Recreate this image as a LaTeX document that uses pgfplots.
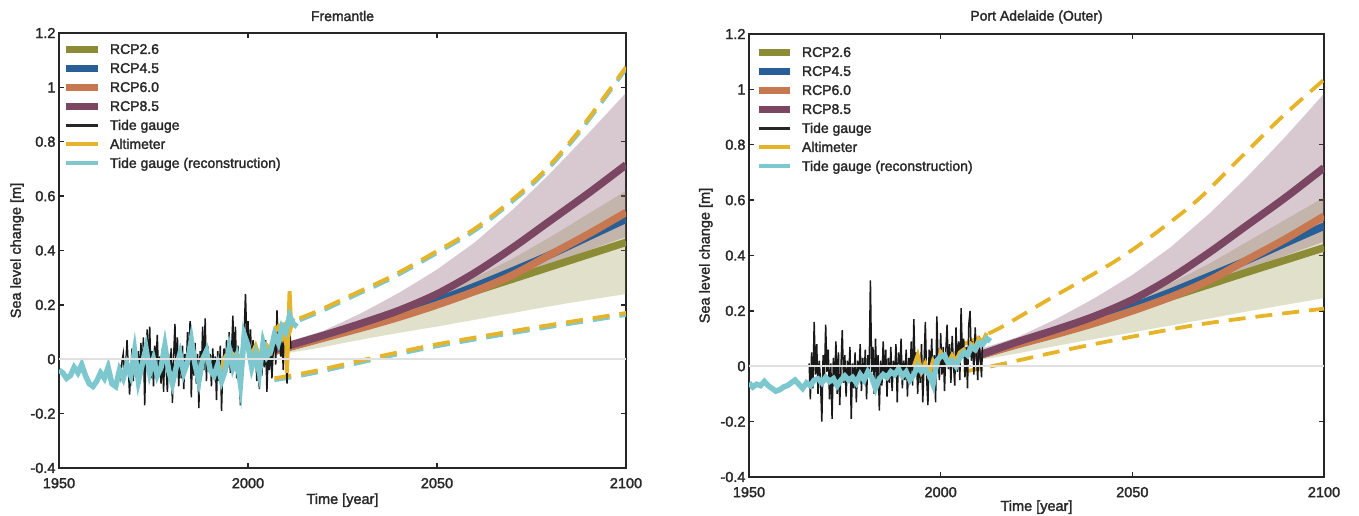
\documentclass[border=0pt]{standalone}
\usepackage{fontspec}
\setmainfont{Liberation Sans}[BoldFont=Liberation Sans, BoldFeatures={FakeBold=2}]
\usepackage{pgfplots}
\pgfplotsset{compat=1.18}
\definecolor{c26}{RGB}{140,140,55}
\definecolor{c45}{RGB}{40,95,150}
\definecolor{c60}{RGB}{200,120,80}
\definecolor{c85}{RGB}{122,70,98}
\definecolor{calt}{RGB}{230,180,40}
\definecolor{crec}{RGB}{125,200,207}
\definecolor{txt}{RGB}{40,40,40}
\pgfplotsset{
  slc/.style={
    scale only axis,
    xmin=1950,xmax=2100,ymin=-0.4,ymax=1.2,
    xtick={1950,2000,2050,2100},
    xticklabels={1950,2000,2050,2100},
    ytick={-0.4,-0.2,0,0.2,0.4,0.6,0.8,1,1.2},
    yticklabels={-0.4,-0.2,0,0.2,0.4,0.6,0.8,1,1.2},
    tick align=inside,
    major tick length=5pt,
    every tick/.style={black!85, line width=1.5pt},
    axis line style={line width=2.2pt, black!85},
    tick label style={font=\fontsize{14.5}{16}\selectfont\bfseries, text=txt},
    xticklabel style={yshift=-6.5pt},
    label style={font=\fontsize{14.5}{16}\selectfont\bfseries, text=txt},
    title style={font=\fontsize{14}{15}\selectfont\bfseries, text=txt, at={(0.5,1)}, anchor=center, yshift=11pt},
    xlabel={Time [year]},
    ylabel={Sea level change [m]},
    legend cell align=left,
    legend image code/.code={\draw[##1, line cap=butt] (0pt,0pt) -- (31pt,0pt); \path (40pt,0pt);},
    legend style={draw=none, fill=none, inner sep=0pt, outer sep=0pt, anchor=north west,
      font=\fontsize{14}{15}\selectfont\bfseries, text=txt, row sep=9.3pt,
      nodes={inner sep=0pt, text height=9.7pt, text depth=0pt}},
  },
  bandp/.style={draw=none, fill=c85, fill opacity=0.29, forget plot},
  bandt/.style={draw=none, fill=c26, fill opacity=0.26, forget plot},
  proj/.style={line width=7.5pt, smooth, forget plot},
  dsh/.style={line width=3.8pt, dash pattern=on 17pt off 10pt, smooth, forget plot},
}
\begin{document}
\begin{tikzpicture}
\path[use as bounding box] (0pt,0pt) rectangle (1359pt,516pt);
% ================= LEFT: Fremantle =================
\begin{axis}[slc, at={(59pt,48pt)}, anchor=south west, width=567pt, height=435pt,
  title={Fremantle},
  xlabel style={at={(axis description cs:0.5,-0.074)}, anchor=center},
  ylabel style={at={(axis description cs:-0.074,0.5)}, anchor=center},
  legend style={at={(0,1)}, xshift=4pt, yshift=-11.2pt}]
\addlegendimage{line width=7pt, c26}\addlegendentry{RCP2.6}
\addlegendimage{line width=7pt, c45}\addlegendentry{RCP4.5}
\addlegendimage{line width=7pt, c60}\addlegendentry{RCP6.0}
\addlegendimage{line width=7pt, c85}\addlegendentry{RCP8.5}
\addlegendimage{line width=3pt, black!85}\addlegendentry{Tide gauge}
\addlegendimage{line width=4pt, calt}\addlegendentry{Altimeter}
\addlegendimage{line width=4pt, crec}\addlegendentry{Tide gauge (reconstruction)}
% bands
\addplot[bandt] coordinates {(2007,0.045) (2010,0.055) (2015,0.072) (2020,0.09) (2025,0.11) (2030,0.13) (2035,0.155) (2040,0.18) (2045,0.207) (2050,0.235) (2055,0.267) (2060,0.3) (2065,0.335) (2070,0.37) (2075,0.41) (2080,0.45) (2085,0.492) (2090,0.535) (2095,0.577) (2100,0.62)
 (2100,0.24) (2095,0.229) (2090,0.218) (2085,0.207) (2080,0.195) (2075,0.183) (2070,0.17) (2065,0.158) (2060,0.145) (2055,0.133) (2050,0.12) (2045,0.109) (2040,0.097) (2035,0.085) (2030,0.072) (2025,0.059) (2020,0.045) (2015,0.033) (2010,0.022) (2007,0.015)};
\addplot[bandp] coordinates {(2007,0.05) (2010,0.062) (2015,0.083) (2020,0.105) (2025,0.137) (2030,0.17) (2035,0.207) (2040,0.245) (2045,0.287) (2050,0.33) (2055,0.38) (2060,0.43) (2065,0.49) (2070,0.55) (2075,0.617) (2080,0.685) (2085,0.757) (2090,0.83) (2095,0.905) (2100,0.98)
 (2100,0.45) (2095,0.425) (2090,0.40) (2085,0.375) (2080,0.35) (2075,0.325) (2070,0.30) (2065,0.275) (2060,0.25) (2055,0.222) (2050,0.195) (2045,0.172) (2040,0.15) (2035,0.129) (2030,0.108) (2025,0.089) (2020,0.07) (2015,0.052) (2010,0.03) (2007,0.02)};
% dashed envelopes
\addplot[dsh, crec, yshift=-2pt] coordinates {(2007,0.115) (2018,0.175) (2028,0.24) (2038,0.305) (2049,0.39) (2061,0.49) (2076,0.66) (2087,0.83) (2100,1.075)};
\addplot[dsh, calt] coordinates {(2007,0.115) (2018,0.175) (2028,0.24) (2038,0.305) (2049,0.39) (2061,0.49) (2076,0.66) (2087,0.83) (2100,1.075)};
\addplot[dsh, crec, yshift=-2pt] coordinates {(2007,-0.07) (2017,-0.045) (2033,0.005) (2050,0.055) (2075,0.115) (2100,0.17)};
\addplot[dsh, calt] coordinates {(2007,-0.07) (2017,-0.045) (2033,0.005) (2050,0.055) (2075,0.115) (2100,0.17)};
% projections
\addplot[proj, c26] coordinates {(2007,0.03) (2020,0.08) (2030,0.118) (2040,0.16) (2050,0.205) (2060,0.25) (2070,0.295) (2080,0.34) (2090,0.385) (2100,0.43)};
\addplot[proj, c45] coordinates {(2007,0.03) (2020,0.08) (2030,0.12) (2040,0.165) (2050,0.215) (2060,0.268) (2070,0.325) (2080,0.385) (2090,0.45) (2100,0.515)};
\addplot[proj, c60] coordinates {(2007,0.03) (2020,0.078) (2030,0.115) (2040,0.155) (2050,0.2) (2060,0.25) (2070,0.31) (2080,0.385) (2090,0.46) (2100,0.54)};
\addplot[proj, c85] coordinates {(2007,0.035) (2020,0.088) (2030,0.132) (2040,0.18) (2050,0.24) (2060,0.318) (2070,0.41) (2080,0.51) (2090,0.61) (2100,0.715)};
% tide gauge
\addplot[black!90, line width=1.5pt, forget plot] coordinates {
(1966.0,-0.02) (1966.33,-0.06) (1966.67,-0.01) (1967.0,0.02) (1967.33,-0.05) (1967.67,-0.02)
(1968.0,0.07) (1968.33,-0.03) (1968.67,-0.13) (1969.0,-0.04) (1969.33,0.04) (1969.67,-0.08)
(1970.0,0.05) (1970.33,-0.02) (1970.67,-0.06) (1971.0,0.03) (1971.33,-0.09) (1971.67,0.06)
(1972.0,-0.05) (1972.33,0.08) (1972.67,-0.17) (1973.0,0.02) (1973.33,0.11) (1973.67,-0.04)
(1974.0,0.12) (1974.33,-0.07) (1974.67,0.03) (1975.0,-0.10) (1975.33,0.05) (1975.67,-0.02)
(1976.0,0.09) (1976.33,-0.06) (1976.67,0.01) (1977.0,-0.09) (1977.33,0.04) (1977.67,-0.12)
(1978.0,0.05) (1978.33,-0.03) (1978.67,-0.12) (1979.0,0.02) (1979.33,-0.08) (1979.67,0.04)
(1980.0,-0.16) (1980.33,0.01) (1980.67,0.13) (1981.0,-0.05) (1981.33,0.08) (1981.67,-0.10)
(1982.0,0.03) (1982.33,-0.07) (1982.67,0.05) (1983.0,-0.11) (1983.33,0.02) (1983.67,-0.04)
(1984.0,0.10) (1984.33,-0.02) (1984.67,0.14) (1985.0,-0.14) (1985.33,0.04) (1985.67,-0.06)
(1986.0,0.06) (1986.33,-0.09) (1986.67,0.02) (1987.0,-0.18) (1987.33,0.03) (1987.67,-0.05)
(1988.0,0.12) (1988.33,-0.04) (1988.67,0.15) (1989.0,-0.08) (1989.33,0.05) (1989.67,-0.03)
(1990.0,0.02) (1990.33,-0.10) (1990.67,0.04) (1991.0,-0.06) (1991.33,0.01) (1991.67,-0.15)
(1992.0,0.03) (1992.33,-0.08) (1992.67,0.05) (1993.0,-0.19) (1993.33,-0.02) (1993.67,0.04)
(1994.0,-0.06) (1994.33,0.07) (1994.67,-0.03) (1995.0,0.10) (1995.33,-0.05) (1995.67,0.03)
(1996.0,0.16) (1996.33,-0.04) (1996.67,0.12) (1997.0,-0.07) (1997.33,0.05) (1997.67,-0.02)
(1998.0,-0.17) (1998.33,-0.05) (1998.67,0.06) (1999.0,0.10) (1999.33,0.24) (1999.67,0.08)
(2000.0,0.14) (2000.33,0.02) (2000.67,0.11) (2001.0,-0.05) (2001.33,0.07) (2001.67,-0.02)
(2002.0,0.04) (2002.33,-0.08) (2002.67,0.01) (2003.0,-0.11) (2003.33,0.03) (2003.67,-0.06)
(2004.0,0.05) (2004.33,-0.03) (2004.67,0.07) (2005.0,-0.12) (2005.33,0.02) (2005.67,-0.04)
(2006.0,0.06) (2006.33,-0.07) (2006.67,0.03) (2007.0,0.10) (2007.33,-0.02) (2007.67,0.18)
(2008.0,0.05) (2008.33,0.12) (2008.67,0.01) (2009.0,0.08) (2009.33,-0.04) (2009.67,0.10)
(2010.0,0.02) (2010.33,-0.09) (2010.67,0.06) (2011.0,0.13) (2011.33,0.04)};
% altimeter
\addplot[calt, line width=4pt, forget plot] coordinates {
(1993,-0.04) (1994,0.01) (1995,0.03) (1996,0.02) (1997,-0.02) (1998,0.0) (1999,0.06) (2000,0.04)
(2001,0.02) (2002,0.05) (2003,0.01) (2004,0.03) (2005,0.05) (2006,0.03) (2007,0.10) (2008,0.12)
(2009,0.08) (2010,0.12) (2010.3,-0.05) (2010.6,0.08) (2011.0,0.25) (2011.4,0.12) (2012,0.15)};
% reconstruction
\addplot[crec, line width=5.5pt, forget plot] coordinates {
(1950,-0.04) (1951,-0.05) (1952,-0.07) (1953,-0.06) (1954,-0.03) (1955,-0.05) (1956,-0.02) (1957,-0.06)
(1958,-0.09) (1959,-0.10) (1960,-0.08) (1961,-0.05) (1962,-0.07) (1963,-0.03) (1964,-0.09) (1965,-0.10)
(1966,-0.04) (1967,-0.07) (1968,-0.02) (1969,-0.06) (1970,0.03) (1971,-0.08) (1972,-0.02) (1973,0.04)
(1974,-0.05) (1975,0.00) (1976,-0.06) (1977,-0.03) (1978,0.05) (1979,-0.04) (1980,-0.09) (1981,-0.03)
(1982,0.02) (1983,-0.05) (1984,-0.01) (1985,0.07) (1986,-0.02) (1987,-0.08) (1988,0.00) (1989,0.03)
(1990,-0.04) (1991,-0.06) (1992,-0.02) (1993,-0.08) (1994,-0.04) (1995,0.04) (1996,-0.03) (1997,0.01)
(1998,-0.09) (1999,0.09) (2000,0.05) (2001,-0.03) (2002,0.02) (2003,-0.05) (2004,0.06) (2005,0.01)
(2006,0.03) (2007,0.09) (2008,0.06) (2009,0.12) (2010,0.10) (2011,0.16) (2012,0.13) (2013,0.12)};
\addplot[black!12, line width=1.5pt, forget plot] coordinates {(1950,0) (2100,0)};
\end{axis}
% ================= RIGHT: Port Adelaide =================
\begin{axis}[slc, at={(749pt,39pt)}, anchor=south west, width=575pt, height=443pt,
  title={Port Adelaide (Outer)},
  xlabel style={at={(axis description cs:0.5,-0.068)}, anchor=center},
  ylabel style={at={(axis description cs:-0.075,0.5)}, anchor=center},
  legend style={at={(0,1)}, xshift=6pt, yshift=-13.2pt}]
\addlegendimage{line width=7pt, c26}\addlegendentry{RCP2.6}
\addlegendimage{line width=7pt, c45}\addlegendentry{RCP4.5}
\addlegendimage{line width=7pt, c60}\addlegendentry{RCP6.0}
\addlegendimage{line width=7pt, c85}\addlegendentry{RCP8.5}
\addlegendimage{line width=3pt, black!85}\addlegendentry{Tide gauge}
\addlegendimage{line width=4pt, calt}\addlegendentry{Altimeter}
\addlegendimage{line width=4pt, crec}\addlegendentry{Tide gauge (reconstruction)}
\addplot[bandt] coordinates {(2009,0.045) (2010,0.055) (2015,0.072) (2020,0.09) (2025,0.11) (2030,0.13) (2035,0.155) (2040,0.18) (2045,0.207) (2050,0.235) (2055,0.267) (2060,0.3) (2065,0.335) (2070,0.37) (2075,0.41) (2080,0.45) (2085,0.49) (2090,0.53) (2095,0.57) (2100,0.61)
 (2100,0.246) (2095,0.234) (2090,0.222) (2085,0.21) (2080,0.198) (2075,0.185) (2070,0.172) (2065,0.16) (2060,0.147) (2055,0.135) (2050,0.122) (2045,0.11) (2040,0.098) (2035,0.086) (2030,0.073) (2025,0.06) (2020,0.046) (2015,0.034) (2010,0.022) (2009,0.02)};
\addplot[bandp] coordinates {(2009,0.058) (2010,0.062) (2015,0.083) (2020,0.105) (2025,0.137) (2030,0.17) (2035,0.207) (2040,0.245) (2045,0.287) (2050,0.33) (2055,0.38) (2060,0.43) (2065,0.49) (2070,0.55) (2075,0.617) (2080,0.685) (2085,0.757) (2090,0.83) (2095,0.907) (2100,0.985)
 (2100,0.45) (2095,0.425) (2090,0.40) (2085,0.375) (2080,0.35) (2075,0.325) (2070,0.30) (2065,0.275) (2060,0.25) (2055,0.222) (2050,0.195) (2045,0.172) (2040,0.15) (2035,0.129) (2030,0.108) (2025,0.089) (2020,0.07) (2015,0.052) (2010,0.03) (2009,0.026)};
\addplot[dsh, calt] coordinates {(2006,0.08) (2015,0.135) (2028,0.24) (2045,0.375) (2056,0.48) (2067,0.60) (2078,0.75) (2089,0.90) (2100,1.035)};
\addplot[dsh, calt] coordinates {(2006,-0.02) (2015,0.005) (2033,0.06) (2050,0.107) (2067,0.15) (2083,0.18) (2100,0.208)};
\addplot[proj, c26] coordinates {(2009,0.035) (2020,0.08) (2030,0.118) (2040,0.16) (2050,0.205) (2060,0.25) (2070,0.295) (2080,0.34) (2090,0.384) (2100,0.428)};
\addplot[proj, c45] coordinates {(2009,0.035) (2020,0.08) (2030,0.12) (2040,0.165) (2050,0.215) (2060,0.268) (2070,0.325) (2080,0.383) (2090,0.445) (2100,0.506)};
\addplot[proj, c60] coordinates {(2009,0.035) (2020,0.078) (2030,0.115) (2040,0.155) (2050,0.2) (2060,0.25) (2070,0.31) (2080,0.385) (2090,0.46) (2100,0.542)};
\addplot[proj, c85] coordinates {(2009,0.035) (2020,0.088) (2030,0.132) (2040,0.18) (2050,0.24) (2060,0.318) (2070,0.41) (2080,0.51) (2090,0.61) (2100,0.717)};
\addplot[black!90, line width=1.5pt, forget plot] coordinates {
(1965.7,0.01) (1966.0,-0.12) (1966.33,0.05) (1966.67,-0.08) (1967.0,0.16) (1967.33,-0.03) (1967.67,0.08)
(1968.0,-0.10) (1968.33,0.02) (1968.67,-0.06) (1969.0,-0.20) (1969.33,0.04) (1969.67,-0.05)
(1970.0,0.15) (1970.33,-0.02) (1970.67,0.06) (1971.0,-0.12) (1971.33,0.01) (1971.67,-0.19)
(1972.0,0.03) (1972.33,-0.07) (1972.67,0.09) (1973.0,-0.10) (1973.33,0.05) (1973.67,-0.14)
(1974.0,0.00) (1974.33,0.13) (1974.67,-0.06) (1975.0,0.04) (1975.33,-0.11) (1975.67,0.02)
(1976.0,-0.05) (1976.33,0.07) (1976.67,-0.19) (1977.0,0.01) (1977.33,-0.08) (1977.67,0.05)
(1978.0,-0.13) (1978.33,0.02) (1978.67,-0.04) (1979.0,0.08) (1979.33,-0.09) (1979.67,0.03)
(1980.0,-0.06) (1980.33,0.06) (1980.67,-0.12) (1981.0,0.04) (1981.33,-0.03) (1981.67,0.31)
(1982.0,-0.02) (1982.33,0.07) (1982.67,-0.10) (1983.0,0.10) (1983.33,-0.05) (1983.67,0.04)
(1984.0,-0.16) (1984.33,0.02) (1984.67,-0.07) (1985.0,0.09) (1985.33,-0.04) (1985.67,0.06)
(1986.0,-0.11) (1986.33,0.03) (1986.67,-0.06) (1987.0,0.07) (1987.33,-0.09) (1987.67,0.02)
(1988.0,-0.04) (1988.33,0.08) (1988.67,-0.13) (1989.0,0.05) (1989.33,-0.03) (1989.67,0.10)
(1990.0,-0.08) (1990.33,0.02) (1990.67,-0.05) (1991.0,0.06) (1991.33,-0.11) (1991.67,0.03)
(1992.0,-0.04) (1992.33,0.09) (1992.67,-0.07) (1993.0,0.17) (1993.33,-0.02) (1993.67,0.05)
(1994.0,-0.10) (1994.33,0.03) (1994.67,-0.06) (1995.0,0.08) (1995.33,-0.13) (1995.67,0.01)
(1996.0,0.16) (1996.33,-0.04) (1996.67,-0.14) (1997.0,0.06) (1997.33,-0.02) (1997.67,0.10)
(1998.0,-0.08) (1998.33,0.04) (1998.67,-0.13) (1999.0,0.18) (1999.33,0.02) (1999.67,-0.05)
(2000.0,0.12) (2000.33,-0.03) (2000.67,0.07) (2001.0,-0.09) (2001.33,0.05) (2001.67,0.15)
(2002.0,-0.01) (2002.33,0.08) (2002.67,-0.06) (2003.0,0.11) (2003.33,0.01) (2003.67,-0.07)
(2004.0,0.14) (2004.33,-0.02) (2004.67,0.09) (2005.0,-0.05) (2005.33,0.21) (2005.67,0.03)
(2006.0,0.10) (2006.33,-0.04) (2006.67,0.07) (2007.0,-0.08) (2007.33,0.15) (2007.67,0.20)
(2008.0,0.02) (2008.33,0.09) (2008.67,-0.03) (2009.0,0.14) (2009.33,0.04) (2009.67,-0.05)
(2010.0,0.11) (2010.33,0.03) (2010.67,-0.04) (2010.9,0.08)};
\addplot[calt, line width=4pt, forget plot] coordinates {
(1993,0.0) (1994,0.04) (1995,-0.02) (1996,0.01) (1997,-0.03) (1998,0.02) (1999,0.0) (2000,0.05)
(2001,0.03) (2002,0.01) (2003,0.04) (2004,0.02) (2005,0.05) (2006,0.06) (2007,0.04) (2008,0.08)
(2009,0.07) (2010,0.10) (2011,0.09) (2012,0.12)};
\addplot[crec, line width=5.5pt, forget plot] coordinates {
(1950,-0.06) (1951,-0.075) (1952,-0.065) (1953,-0.07) (1954,-0.055) (1955,-0.07) (1956,-0.08) (1957,-0.09)
(1958,-0.085) (1959,-0.075) (1960,-0.07) (1961,-0.06) (1962,-0.05) (1963,-0.065) (1964,-0.08) (1965,-0.06)
(1966,-0.07) (1967,-0.05) (1968,-0.045) (1969,-0.06) (1970,-0.04) (1971,-0.055) (1972,-0.045) (1973,-0.07)
(1974,-0.05) (1975,-0.035) (1976,-0.05) (1977,-0.04) (1978,-0.06) (1979,-0.03) (1980,-0.05) (1981,-0.02)
(1982,-0.04) (1983,-0.08) (1984,-0.045) (1985,-0.03) (1986,-0.04) (1987,-0.02) (1988,-0.03) (1989,-0.01)
(1990,-0.035) (1991,-0.02) (1992,-0.05) (1993,-0.03) (1994,0.0) (1995,-0.02) (1996,-0.01) (1997,-0.03)
(1998,-0.065) (1999,0.02) (2000,0.035) (2001,0.04) (2002,0.01) (2003,0.02) (2004,0.0) (2005,0.03)
(2006,0.05) (2007,0.04) (2008,0.07) (2009,0.06) (2010,0.085) (2011,0.08) (2012,0.1) (2013,0.09)};
\addplot[black!12, line width=1.5pt, forget plot] coordinates {(1950,0) (2100,0)};
\end{axis}
\end{tikzpicture}
\end{document}
